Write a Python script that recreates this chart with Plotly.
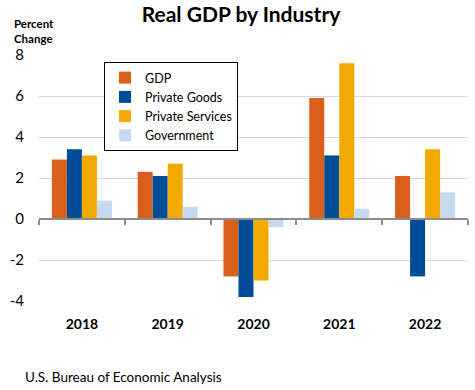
import plotly.graph_objects as go

years = ["2018", "2019", "2020", "2021", "2022"]
gdp = [2.9, 2.3, -2.8, 5.9, 2.1]
private_goods = [3.4, 2.1, -3.8, 3.1, -2.8]
private_services = [3.1, 2.7, -3.0, 7.6, 3.4]
government = [0.9, 0.6, -0.4, 0.5, 1.3]

series_names = ["GDP", "Private Goods", "Private Services", "Government"]
series_colors = ["#D9601A", "#004C97", "#F2AA00", "#C5D9F0"]
y_tick_vals = [-4, -2, 0, 2, 4, 6, 8]
y_tick_text = ["-4", "-2", "0", "2", "4", "6", "8"]
x_tick_text = ["<b>%s</b>" % y for y in years]

FONT = "Lato"
W, H = 475, 390
ml, mr, mt, mb = 39, 7, 55, 89
PW, PH = W - ml - mr, H - mt - mb


def px_x(x):
    return (x - ml) / PW


def px_y(y):
    return (H - mb - y) / PH


fig = go.Figure()
for name, vals, col in zip(series_names, [gdp, private_goods, private_services, government], series_colors):
    fig.add_trace(go.Bar(x=years, y=vals, name=name, marker=dict(color=col, line=dict(width=0))))

# helper invisible trace for the axis line at zero with boundary ticks
fig.add_trace(go.Scatter(x=years, y=[0] * len(years), xaxis="x2", yaxis="y",
                         mode="markers", marker=dict(opacity=0), showlegend=False, hoverinfo="skip"))

ymin, ymax = -4, 8
zero_pos = (0 - ymin) / (ymax - ymin)

fig.update_layout(
    width=W, height=H,
    margin=dict(l=ml, r=mr, t=mt, b=mb),
    paper_bgcolor="white", plot_bgcolor="white",
    barmode="group", bargap=0.3, bargroupgap=0,
    font=dict(family=FONT, color="black"),
    title=dict(text="<b>Real GDP by Industry</b>", x=241 / W, xref="container", xanchor="center",
               y=1 - 15 / H, yref="container", yanchor="middle",
               font=dict(size=21, family=FONT, color="black")),
    xaxis=dict(type="category", showgrid=False, showline=False, ticks="",
               tickvals=years, ticktext=x_tick_text,
               tickfont=dict(size=14, family=FONT, color="black"),
               ticklabelstandoff=13, zeroline=False),
    xaxis2=dict(type="category", overlaying="x", matches="x", anchor="free", position=zero_pos,
                side="bottom", showline=True, linecolor="#8C8C8C", linewidth=1.5,
                ticks="outside", tickson="boundaries", ticklen=5, tickcolor="#8C8C8C",
                tickwidth=1.5, showticklabels=False, showgrid=False, zeroline=False),
    yaxis=dict(range=[ymin, ymax], tickvals=y_tick_vals, ticktext=y_tick_text,
               showgrid=True, gridcolor="#D9D9D9", gridwidth=1, zeroline=False,
               showline=False, ticks="", tickfont=dict(size=15, family=FONT, color="black"),
               ticklabelstandoff=14),
    showlegend=True,
    legend=dict(x=px_x(104), y=px_y(62),
                xanchor="left", yanchor="top", bordercolor="black", borderwidth=1,
                bgcolor="white", font=dict(size=12.5, family=FONT, color="black"),
                tracegroupgap=0, itemwidth=30, traceorder="normal"),
    annotations=[
        dict(text="<b>Percent<br>Change</b>", xref="paper", yref="paper",
             x=px_x(12), y=px_y(15),
             xanchor="left", yanchor="top", align="left", showarrow=False,
             font=dict(size=11.5, family=FONT, color="black")),
        dict(text="U.S. Bureau of Economic Analysis", xref="paper", yref="paper",
             x=px_x(23), y=px_y(377),
             xanchor="left", yanchor="middle", showarrow=False,
             font=dict(size=13.5, family=FONT, color="black")),
    ],
)

fig.write_html("out.html", config={"displayModeBar": False},
               post_script="document.body.style.margin='0px';")
